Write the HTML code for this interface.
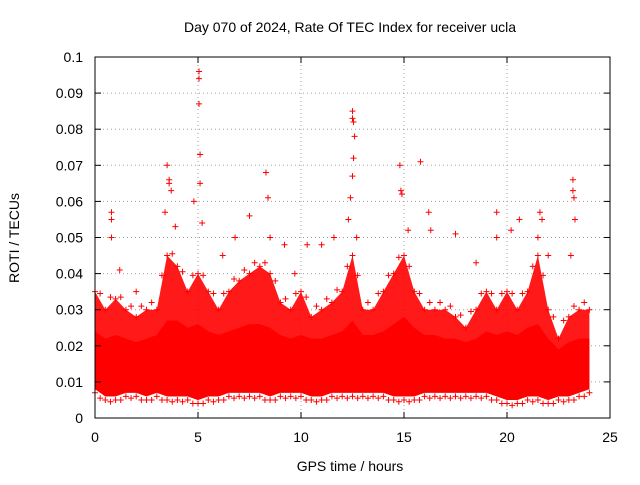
<!DOCTYPE html>
<html><head><meta charset="utf-8"><style>
body{margin:0;background:#fff}
svg text{font-family:"Liberation Sans",sans-serif;font-size:14px;fill:#000}
</style></head><body>
<svg id="chart" width="640" height="480">
<rect width="640" height="480" fill="#fff"/>
<text x="350" y="32" text-anchor="middle">Day 070 of 2024, Rate Of TEC Index for receiver ucla</text>
<text x="350" y="471" text-anchor="middle">GPS time / hours</text>
<text transform="translate(19,238) rotate(-90)" text-anchor="middle">ROTI / TECUs</text>
<g id="grid"></g><g id="marks"></g><g id="axes"></g>
</svg>
<script>
const xTicks=[0,5,10,15,20,25];
const yTicks=[0,0.01,0.02,0.03,0.04,0.05,0.06,0.07,0.08,0.09,0.1];
const yTickLabels=["0","0.01","0.02","0.03","0.04","0.05","0.06","0.07","0.08","0.09","0.1"];
const hours=[0,0.5,1,1.5,2,2.5,3,3.5,4,4.5,5,5.5,6,6.5,7,7.5,8,8.5,9,9.5,10,10.5,11,11.5,12,12.5,13,13.5,14,14.5,15,15.5,16,16.5,17,17.5,18,18.5,19,19.5,20,20.5,21,21.5,22,22.5,23,23.5,24];
const outerUpper=[0.035,0.03,0.033,0.03,0.028,0.03,0.03,0.045,0.042,0.035,0.04,0.035,0.03,0.035,0.038,0.04,0.042,0.04,0.032,0.03,0.035,0.028,0.03,0.032,0.035,0.045,0.03,0.03,0.035,0.04,0.045,0.035,0.03,0.03,0.03,0.028,0.025,0.03,0.035,0.03,0.035,0.03,0.035,0.045,0.03,0.022,0.028,0.03,0.03];
const innerUpper=[0.024,0.022,0.023,0.022,0.021,0.022,0.023,0.027,0.027,0.025,0.026,0.024,0.023,0.024,0.025,0.026,0.026,0.025,0.023,0.022,0.023,0.022,0.022,0.023,0.024,0.027,0.023,0.023,0.024,0.026,0.028,0.025,0.023,0.023,0.022,0.022,0.021,0.022,0.024,0.023,0.024,0.023,0.025,0.026,0.022,0.019,0.021,0.022,0.022];
const lower=[0.008,0.006,0.006,0.007,0.007,0.006,0.007,0.006,0.006,0.006,0.005,0.006,0.006,0.007,0.007,0.007,0.007,0.006,0.007,0.007,0.007,0.006,0.006,0.007,0.007,0.007,0.007,0.007,0.007,0.006,0.006,0.006,0.007,0.007,0.007,0.007,0.007,0.007,0.007,0.006,0.005,0.005,0.006,0.006,0.005,0.006,0.006,0.007,0.008];
const outHours=[0.8,0.8,0.8,3.5,3.6,3.6,3.4,3.7,3.9,5.05,5.05,5.05,5.1,5.1,5.2,4.8,6.8,7.5,8.3,8.4,8.5,9.2,10.3,11,11.6,12.5,12.5,12.55,12.6,12.55,12.5,12.4,12.3,12.7,14.8,14.85,14.9,15.2,15.8,16.2,16.3,17.5,18.5,19.5,19.5,20.2,20.6,21.6,21.7,21.5,22,23.2,23.2,23.25,23.1,23.3,1.2,2,6.2,9.7];
const outVals=[0.057,0.055,0.05,0.07,0.066,0.065,0.057,0.063,0.053,0.096,0.094,0.087,0.073,0.065,0.054,0.06,0.05,0.056,0.068,0.061,0.05,0.048,0.048,0.048,0.05,0.085,0.083,0.082,0.078,0.072,0.067,0.061,0.055,0.05,0.07,0.063,0.062,0.052,0.071,0.057,0.052,0.051,0.043,0.05,0.057,0.052,0.055,0.057,0.055,0.05,0.045,0.066,0.063,0.061,0.045,0.055,0.041,0.035,0.045,0.04];
const X0=95,X1=610,Y0=418,Y1=57;
const xs=h=>X0+(h/25)*(X1-X0);
const ys=v=>Y0-(v/0.1)*(Y0-Y1);
const NS="http://www.w3.org/2000/svg";
function mk(t,a,p){const e=document.createElementNS(NS,t);for(const k in a)e.setAttribute(k,a[k]);p.appendChild(e);return e;}
const grid=document.getElementById('grid'),marks=document.getElementById('marks'),axes=document.getElementById('axes');
xTicks.forEach((t,i)=>{
 if(i>0&&i<xTicks.length-1){const g=mk('line',{x1:xs(t),x2:xs(t),y1:Y0,y2:Y1,stroke:'#a0a0a0','stroke-dasharray':'1,3'},grid);
 
 }
 mk('line',{x1:xs(t),x2:xs(t),y1:Y0,y2:Y0-6,stroke:'#000'},axes);
 mk('line',{x1:xs(t),x2:xs(t),y1:Y1,y2:Y1+6,stroke:'#000'},axes);
 const l=mk('text',{x:xs(t),y:Y0+24,'text-anchor':'middle'},axes);l.textContent=t;
 
 
});
yTicks.forEach((t,i)=>{
 if(i>0&&i<yTicks.length-1){const g=mk('line',{x1:X0,x2:X1,y1:ys(t),y2:ys(t),stroke:'#a0a0a0','stroke-dasharray':'1,3'},grid);
 
 }
 mk('line',{x1:X0,x2:X0+6,y1:ys(t),y2:ys(t),stroke:'#000'},axes);
 mk('line',{x1:X1,x2:X1-6,y1:ys(t),y2:ys(t),stroke:'#000'},axes);
 const l=mk('text',{x:X0-12,y:ys(t)+5,'text-anchor':'end'},axes);l.textContent=yTickLabels[i];
 
 
});
const fr=mk('rect',{x:X0,y:Y1,width:X1-X0,height:Y0-Y1,fill:'none',stroke:'#000'},axes);


function band(up,lo,op,name){
 let pts=hours.map((h,i)=>xs(h)+','+ys(up[i]));
 pts=pts.concat(hours.slice().reverse().map((h,j)=>{const i=hours.length-1-j;return xs(h)+','+ys(lo[i]);}));
 const p=mk('polygon',{points:pts.join(' '),fill:'#ff0000','fill-opacity':op},marks);
 
 
}
band(outerUpper,lower,0.9,'roti-outer-band');
band(innerUpper,lower,1,'roti-dense-band');
function plus(h,v,c,name){
 const x=xs(h),y=ys(v);
 const p=mk('path',{d:`M${x-3},${y}H${x+3}M${x},${y-3}V${y+3}`,stroke:c,'stroke-width':1},marks);
 
 
}
hours.forEach((h,i)=>{
 plus(h,outerUpper[i],'#ff0000','roti-point');
 plus(h,lower[i]-0.001,'#ff0000','roti-point');
 if(i<hours.length-1){
  plus(h+0.25,(outerUpper[i]+outerUpper[i+1])/2+0.002,'#ff0000','roti-point');
  plus(h+0.25,(lower[i]+lower[i+1])/2-0.0015,'#ff0000','roti-point');
 }
});
outHours.forEach((h,i)=>plus(h,outVals[i],'#ff0000','roti-outlier-point'));
</script>
</body></html>
